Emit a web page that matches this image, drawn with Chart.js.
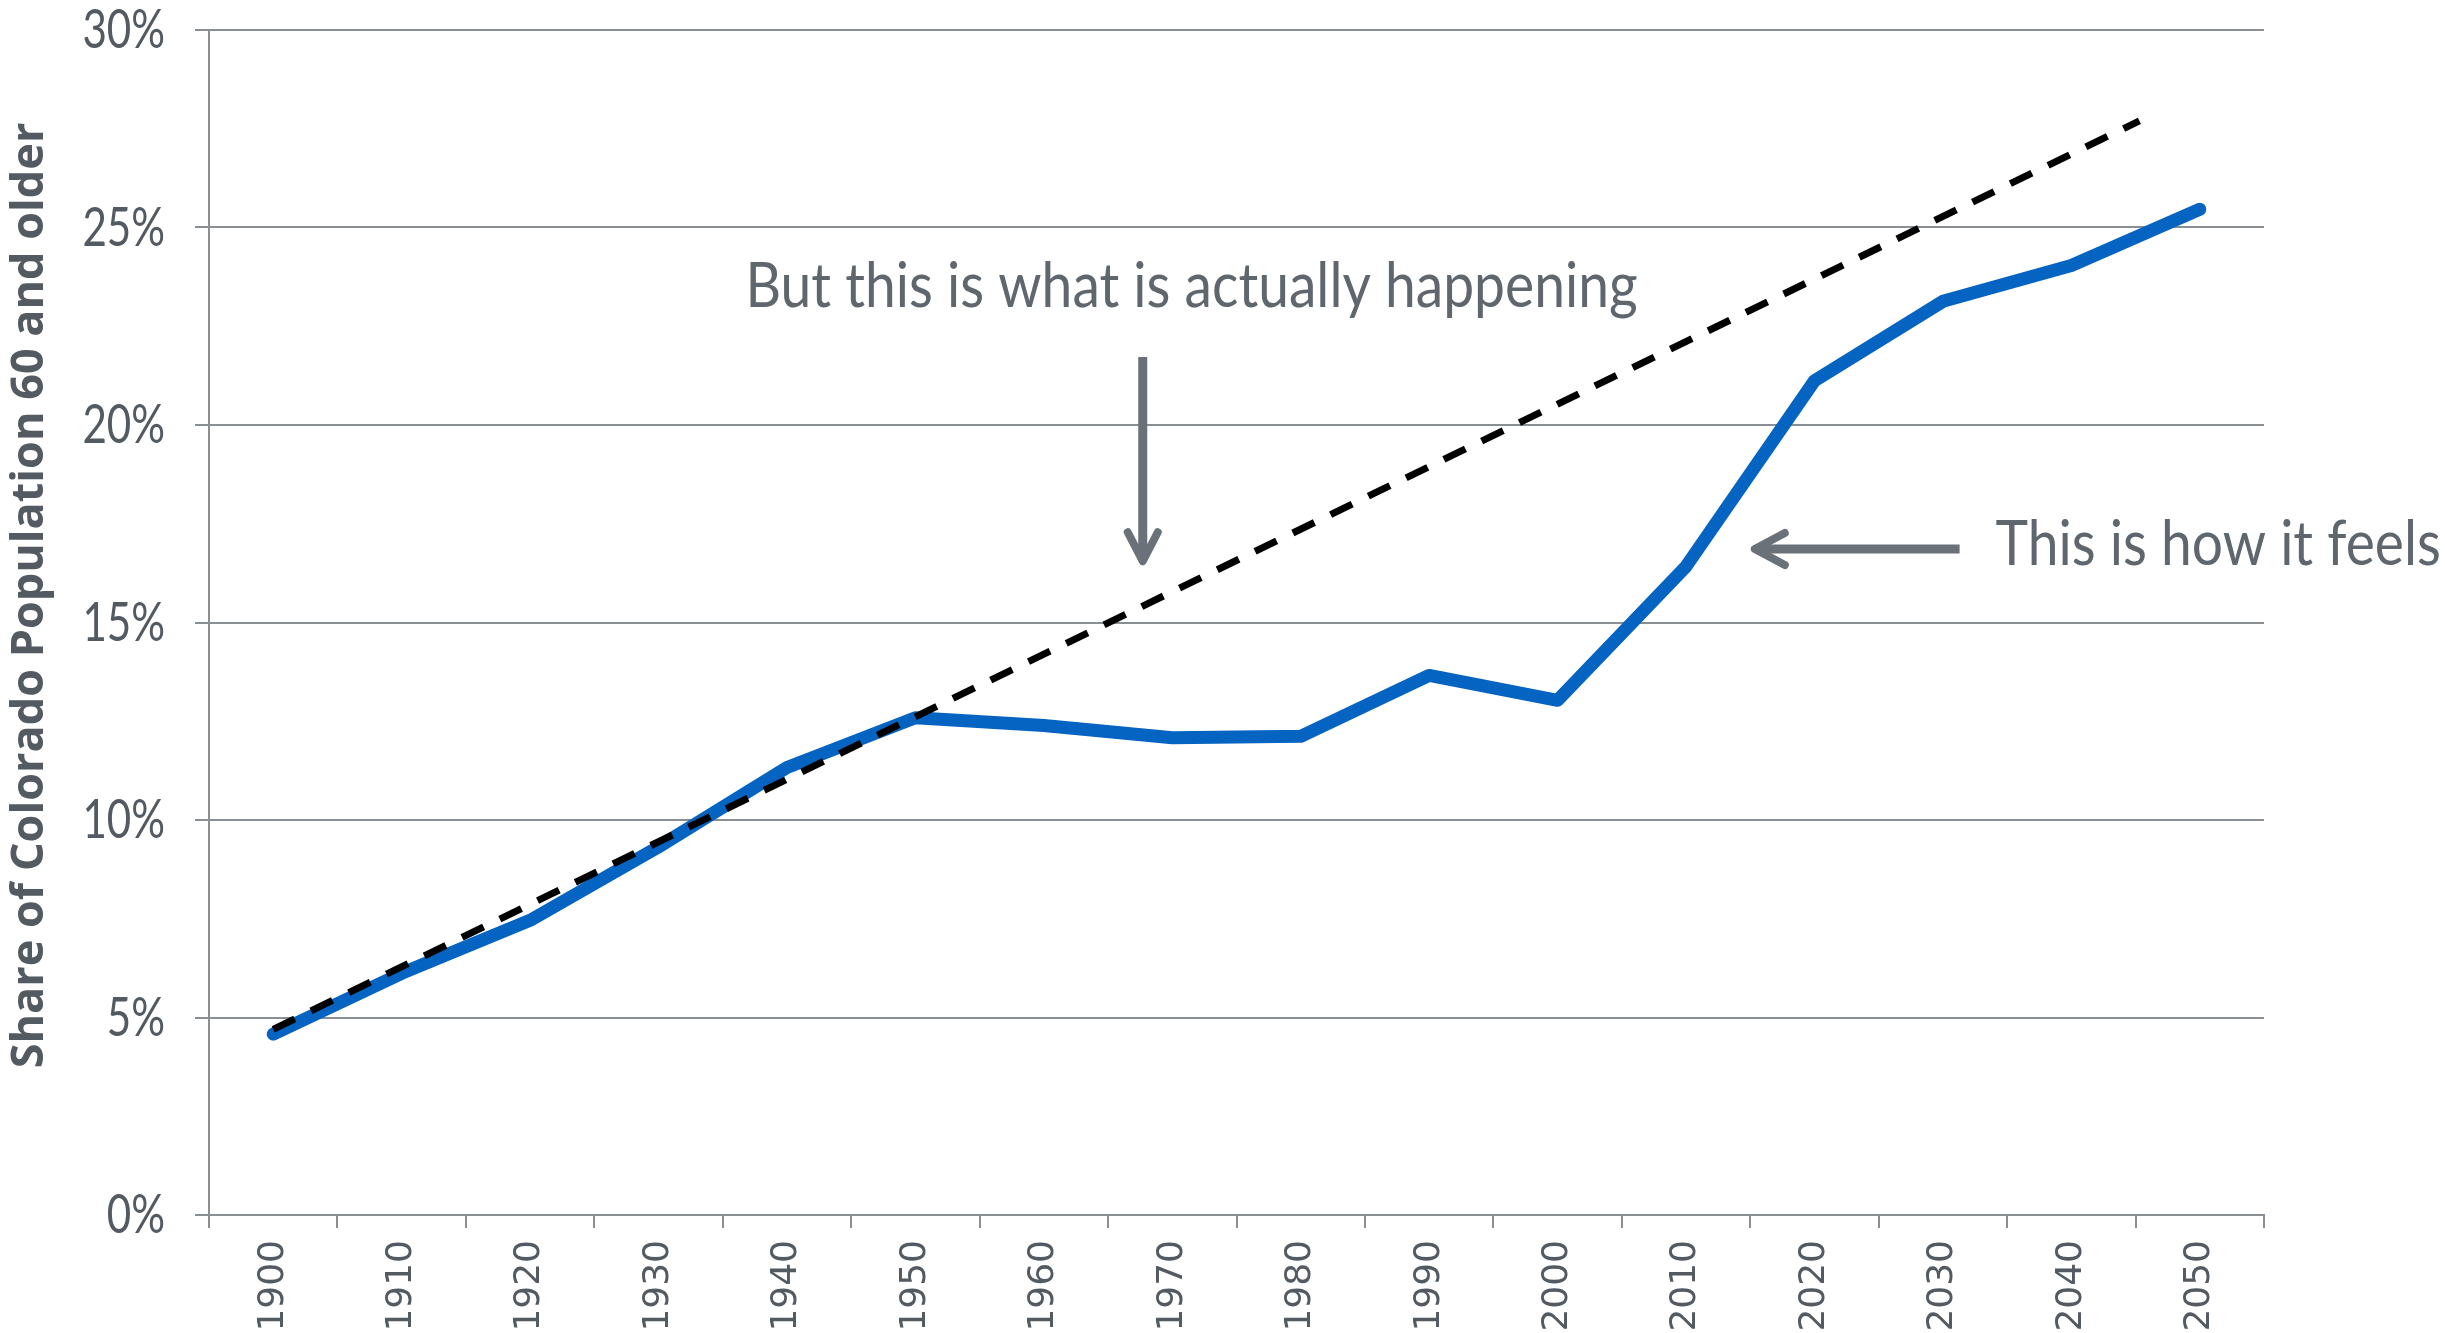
<!DOCTYPE html>
<html>
<head>
<meta charset="utf-8">
<script src="https://cdn.jsdelivr.net/npm/chart.js@4.4.1/dist/chart.umd.min.js"></script>
<style>
  html, body { margin:0; padding:0; background:#fff; }
  #wrap { width:2445px; height:1333px; }
</style>
</head>
<body>
<div id="wrap"><canvas id="chart" width="2445" height="1333"></canvas></div>
<script>
// ---- data ----
const years      = ['1900','1910','1920','1930','1940','1950','1960','1970','1980','1990','2000','2010','2020','2030','2040','2050'];
const shareOlder = [4.58, 6.12, 7.46, 9.32, 11.33, 12.59, 12.39, 12.08, 12.12, 13.66, 13.03, 16.42, 21.12, 23.13, 24.04, 25.46];
// straight trend line (dashed): start and end
const trendYears = [1900, 2045.3];
const trendShare = [4.7, 27.7];
const yTicks     = [0, 5, 10, 15, 20, 25, 30];

const GREY_TXT  = '#535a61';
const GREY_LINE = '#8a8f94';
const ARROW     = '#6b7178';
const NARROW    = 'Lato, "Open Sans", sans-serif';
const Y_TITLE   = 'Share of Colorado Population 60 and older';

// condensed-looking text: squeeze horizontally
function squeezeText(ctx, str, x, y, sx, align) {
  ctx.save();
  ctx.translate(x, y);
  ctx.scale(sx, 1);
  ctx.textAlign = align;
  ctx.fillText(str, 0, 0);
  ctx.restore();
}

// ---- annotations: arrows + text, placed through the scales ----
const notes = {
  id: 'notes',
  afterDraw(chart) {
    const { ctx, scales, chartArea } = chart;
    const X = v => scales.x2.getPixelForValue(v);
    const Y = v => scales.y.getPixelForValue(v);
    ctx.save();

    // y axis title
    ctx.save();
    ctx.translate(30, (chartArea.top + chartArea.bottom) / 2 - 27);
    ctx.rotate(-Math.PI / 2);
    ctx.fillStyle = GREY_TXT;
    ctx.font = 'bold 45px "Open Sans", sans-serif';
    ctx.textAlign = 'center';
    ctx.textBaseline = 'middle';
    ctx.fillText(Y_TITLE, 0, 0);
    ctx.restore();

    ctx.fillStyle = GREY_TXT;
    ctx.textBaseline = 'middle';

    // y tick labels (condensed)
    ctx.font = '54px ' + NARROW;
    scales.y.ticks.forEach(t => {
      squeezeText(ctx, t.value + '%', chartArea.left - 44, Y(t.value) + 1, 0.78, 'right');
    });

    // top callout
    ctx.fillStyle = '#5f666d';
    ctx.font = '62px ' + NARROW;
    squeezeText(ctx, 'But this is what is actually happening', X(1971.5), Y(23.5), 0.89, 'center');

    ctx.strokeStyle = ARROW;
    ctx.lineJoin = 'round';

    // vertical arrow
    const ax = X(1967.7), top = Y(21.72), tip = Y(16.5);
    ctx.lineWidth = 9;
    ctx.lineCap = 'butt';
    ctx.beginPath();
    ctx.moveTo(ax, top); ctx.lineTo(ax, tip - 6);
    ctx.stroke();
    ctx.lineCap = 'round';
    ctx.lineWidth = 8;
    ctx.beginPath();
    ctx.moveTo(ax - 15, tip - 31); ctx.lineTo(ax, tip - 2); ctx.lineTo(ax + 15, tip - 31);
    ctx.stroke();

    // horizontal arrow
    const hy = Y(16.86), hTip = X(2015.2), hTail = X(2031.3);
    ctx.lineWidth = 9;
    ctx.lineCap = 'butt';
    ctx.beginPath();
    ctx.moveTo(hTail, hy); ctx.lineTo(hTip + 6, hy);
    ctx.stroke();
    ctx.lineCap = 'round';
    ctx.lineWidth = 8;
    ctx.beginPath();
    ctx.moveTo(hTip + 32, hy - 16); ctx.lineTo(hTip + 2, hy); ctx.lineTo(hTip + 32, hy + 16);
    ctx.stroke();

    ctx.font = '62px ' + NARROW;
    squeezeText(ctx, 'This is how it feels', X(2034.1), Y(16.97), 0.89, 'left');
    ctx.restore();
  }
};

new Chart(document.getElementById('chart'), {
  type: 'line',
  data: {
    labels: years,
    datasets: [
      {
        label: 'Trend',
        data: trendYears.map((x, i) => ({ x, y: trendShare[i] })),
        xAxisID: 'x2',
        borderColor: '#000',
        borderWidth: 7,
        borderDash: [24, 18],
        pointRadius: 0,
        tension: 0,
        order: 0
      },
      {
        label: 'Share 60+',
        data: shareOlder,
        xAxisID: 'x',
        borderColor: '#0563C1',
        borderWidth: 13,
        borderCapStyle: 'round',
        borderJoinStyle: 'round',
        pointRadius: 0,
        tension: 0,
        order: 1
      }
    ]
  },
  options: {
    responsive: false,
    animation: false,
    devicePixelRatio: 1,
    layout: { padding: { top: 30, right: 181, left: 0, bottom: 0 } },
    plugins: { legend: { display: false }, tooltip: { enabled: false } },
    scales: {
      x: {
        type: 'category',
        offset: true,
        grid: { offset: true, drawOnChartArea: false, drawTicks: true, tickLength: 13, color: GREY_LINE, lineWidth: 2 },
        border: { color: GREY_LINE, width: 2 },
        ticks: { color: GREY_TXT, font: { family: '"DejaVu Sans"', size: 36 }, minRotation: 90, maxRotation: 90, padding: 12, autoSkip: false },
        afterFit(s) { s.height = 118; }
      },
      x2: {
        type: 'linear',
        display: false,
        min: 1895,
        max: 2055
      },
      y: {
        min: 0,
        max: 30,
        afterBuildTicks(s) { s.ticks = yTicks.map(v => ({ value: v })); },
        grid: { color: GREY_LINE, lineWidth: 2, tickLength: 14 },
        border: { color: GREY_LINE, width: 2 },
        ticks: { display: false },
        afterFit(s) { s.width = 209; s.paddingTop = 0; s.paddingBottom = 0; }
      }
    }
  },
  plugins: [notes]
});
</script>
</body>
</html>
